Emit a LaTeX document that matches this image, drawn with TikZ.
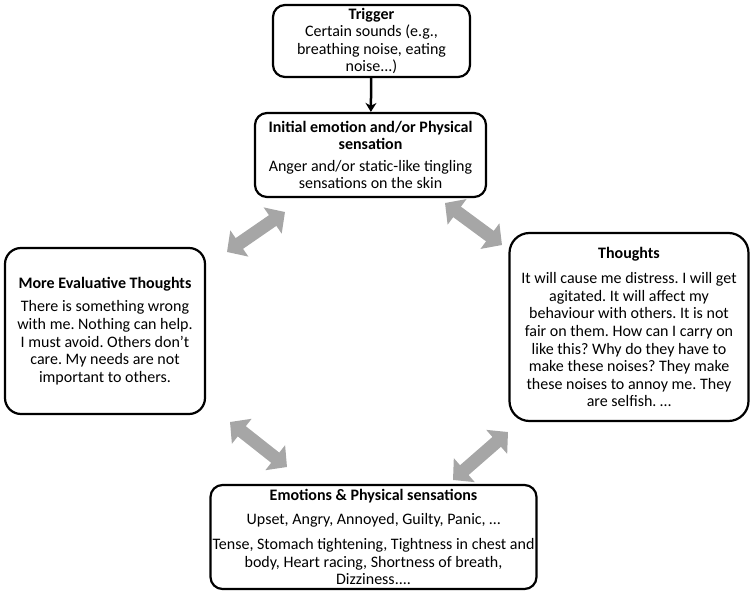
\documentclass[tikz,border=0pt]{standalone}
\usepackage{fontspec}
\setmainfont{Carlito}
\usetikzlibrary{arrows.meta}
\frenchspacing
\tikzset{
  box/.style={draw, line width=2.2pt, rounded corners=12pt, align=center,
    inner sep=0pt, font=\fontsize{16}{17.6}\selectfont},
  fat/.style={draw=black!35, line width=13pt,
    {Triangle[length=15pt,width=31pt]}-{Triangle[length=15pt,width=31pt]}},
}
\begin{document}
\begin{tikzpicture}[x=1pt,y=-1pt]
  \useasboundingbox (0,0) rectangle (753,594);
  \node[box, minimum width=197, minimum height=72] (trigger) at (371.5,41)
    {\textbf{Trigger}\\Certain sounds (e.g.,\\breathing noise, eating\\noise...)};
  \node[box, minimum width=231, minimum height=84] (initial) at (370.5,155)
    {\textbf{Initial emotion and/or Physical}\\\textbf{sensation}\\[4pt]
     Anger and/or static-like tingling\\sensations on the skin};
  \node[box, rounded corners=16pt, minimum width=200, minimum height=166] (evaluative) at (105,331)
    {\textbf{More Evaluative Thoughts}\\[6pt]
     There is something wrong\\with me. Nothing can help.\\I must avoid. Others don’t\\
     care. My needs are not\\important to others.};
  \node[box, rounded corners=20pt, minimum width=239, minimum height=188] (thoughts) at (629,327)
    {\textbf{Thoughts}\\[8pt]
     It will cause me distress. I will get\\agitated. It will affect my\\
     behaviour with others. It is not\\fair on them. How can I carry on\\
     like this? Why do they have to\\make these noises? They make\\
     these noises to annoy me. They\\are selfish. …};
  \node[box, minimum width=326, minimum height=104] (emotions) at (373.5,537)
    {\textbf{Emotions \& Physical sensations}\\[7pt]
     Upset, Angry, Annoyed, Guilty, Panic, …\\[7pt]
     Tense, Stomach tightening, Tightness in chest and\\
     body, Heart racing, Shortness of breath,\\Dizziness....};

  \draw[line width=2.5pt, -{Stealth[length=9pt,width=11pt]}] (trigger) -- (initial);

  % grey two-way arrows round the cycle
  \coordinate (ul1) at (227,252); \coordinate (ul2) at (285,212);
  \coordinate (ur1) at (445,203); \coordinate (ur2) at (502,245);
  \coordinate (ll1) at (230,422); \coordinate (ll2) at (287,467);
  \coordinate (lr1) at (453,480); \coordinate (lr2) at (508,432);
  \foreach \a/\b in {ul1/ul2, ur1/ur2, ll1/ll2, lr1/lr2}
    \draw[fat] (\a) -- (\b);
\end{tikzpicture}
\end{document}
